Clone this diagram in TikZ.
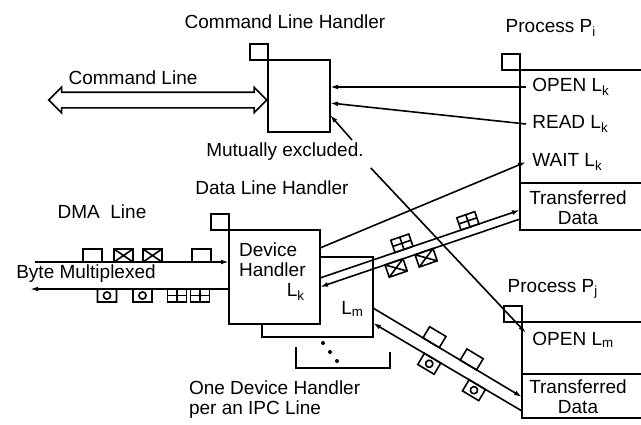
\documentclass[tikz,border=0pt]{standalone}
\usepackage{fontspec}
\setsansfont{Liberation Sans}
\usetikzlibrary{arrows.meta,shapes.arrows,calc}

\begin{document}
\begin{tikzpicture}[x=0.5pt, y=-0.5pt,
	every node/.style={font=\sffamily\fontsize{9.5}{10}\selectfont},
	>={Latex[length=4pt,width=2.4pt]},
	conn/.style={line width=0.8pt},
	handler/.style={draw, line width=1pt, fill=white, inner sep=0pt, outer sep=0pt},
	port/.style={draw, line width=1pt, inner sep=0pt, outer sep=0pt, minimum width=9pt, minimum height=8pt, anchor=south east},
	proc/.style={draw, line width=1pt, inner sep=0pt, outer sep=0pt, minimum width=70pt, anchor=north west},
	cmd/.style={anchor=west, inner sep=3pt},
	pktline/.style={line width=0.8pt},
	pkt/.pic={\draw[pktline] (-9.5,0) rectangle (9.5,-13);},
	pktx/.pic={\draw[pktline] (-9.5,0) rectangle (9.5,-13) (-9.5,0) -- (9.5,-13) (-9.5,-13) -- (9.5,0);},
	pkto/.pic={\draw[pktline] (-9.5,0) rectangle (9.5,-13) (0,-6.5) circle (1.8pt);},
	pktg/.pic={\draw[pktline] (-9.5,0) rectangle (9.5,-13) (0,0) -- (0,-13) (-9.5,-6.5) -- (9.5,-6.5);}]
	\useasboundingbox (0,0) rectangle (641,424);
	\clip (0,0) rectangle (641,424);

	% command line handler
	\node[handler, minimum width=31pt, minimum height=36pt] (cmdh) at (299,96) {};
	\node[port] (cmdport) at (cmdh.north west) {};
	\node (cmdtitle) at (285,22) {Command Line Handler};
	\node[double arrow, draw, line width=0.8pt, minimum height=109pt, inner sep=3.5pt,
		double arrow head extend=2.5pt, anchor=east] (cmdline) at ([yshift=-2pt]cmdh.west) {};
	\node (cmdlabel) at (133,78) {Command Line};

	% process Pi
	\node[proc, minimum height=56.5pt] (piu) at (520,70) {};
	\node[proc, minimum height=23.5pt] (pid) at (piu.south west) {};
	\node[port] (piport) at (piu.north west) {};
	\node (pititle) at (551,28) {Process P\textsubscript{i}};
	\node[cmd] (openk) at (526,87) {OPEN L\textsubscript{k}};
	\node[cmd] (readk) at (526,124) {READ L\textsubscript{k}};
	\node[cmd] (waitk) at (526,162) {WAIT L\textsubscript{k}};
	\node[align=center] (pidtext) at (578,208) {Transferred\\Data};

	% process Pj
	\node[proc, minimum height=26pt] (pju) at (522,322) {};
	\node[proc, minimum height=22pt] (pjd) at (pju.south west) {};
	\node[port] (pjport) at (pju.north west) {};
	\node (pjtitle) at (553,289) {Process P\textsubscript{j}};
	\node[cmd] (openm) at (526,340) {OPEN L\textsubscript{m}};
	\node[align=center] (pjdtext) at (578,397) {Transferred\\Data};

	% data line handler
	\node (dlhtitle) at (272,188) {Data Line Handler};
	\node (dmatitle) at (102,212) {DMA\ \ Line};
	\draw[line width=1pt] (296,347) -- (296,368) -- (390,368) -- (390,352);
	\fill (323,343) circle (1pt) (330,352) circle (1pt) (337,361) circle (1pt);
	\node[handler, minimum width=55.5pt, minimum height=40pt] (dh2) at (317.5,297) {};
	\node[anchor=east] (lm) at (371,309) {L\textsubscript{m}};
	\node[handler, minimum width=45.5pt, minimum height=47pt] (dh) at (274.5,277) {};
	\node[port] (dhport) at (dh.north west) {};
	\node[anchor=north west, align=left] (dhtext) at (232,236) {Device\\Handler};
	\node (lk) at (296,292) {L\textsubscript{k}};
	\node[anchor=west, align=left] (onedh) at (182,400) {One Device Handler\\per an IPC Line};

	% DMA line
	\coordinate (dmain) at (35,262);
	\coordinate (dmaout) at (30,289);
	\draw[conn,->] (dmain) -- (dmain -| dh.west);
	\draw[conn,->] (dmaout -| dh.west) -- (dmaout);
	\node (bytemux) at (86,274) {Byte Multiplexed};
	\foreach \x/\p in {92.5/pkt, 123.5/pktx, 152.5/pktx, 201.5/pkt}
		\pic at (\x,262) {\p};
	\foreach \x/\p in {107/pkto, 142.5/pkto, 177/pktg, 200/pktg}
		\pic[rotate=180] at (\x,289) {\p};

	% line to Pi
	\coordinate (c1a) at ([yshift=-0.5pt]dh.east);
	\coordinate (c1b) at ([yshift=-1.75pt]pid.west);
	\coordinate (c1c) at ([yshift=-5pt]dh.east);
	\coordinate (c1d) at ([yshift=-6.25pt]pid.west);
	\draw[conn,->] (c1a) -- (c1b);
	\draw[conn,->] (c1d) -- (c1c);
	\foreach \t in {0.42,0.75}
		\pic[rotate=19] at ($(c1a)!\t!(c1b)$) {pktg};
	\foreach \t in {0.37,0.52}
		\pic[rotate=199] at ($(c1c)!\t!(c1d)$) {pktx};

	% line to Pj
	\coordinate (c2a) at ([yshift=-5.5pt]dh2.east);
	\coordinate (c2b) at ([yshift=-0.5pt]pjd.west);
	\coordinate (c2c) at ([yshift=-13pt]dh2.east);
	\coordinate (c2d) at ([yshift=-7.5pt]pjd.west);
	\draw[conn,->] (c2a) -- (c2b);
	\draw[conn,->] (c2d) -- (c2c);
	\foreach \t in {0.39,0.64}
		\pic[rotate=-31] at ($(c2a)!\t!(c2b)$) {pkt};
	\foreach \t in {0.40,0.70}
		\pic[rotate=149] at ($(c2c)!\t!(c2d)$) {pkto};

	% commands
	\draw[conn,->] (openk.west) -- (openk.west -| cmdh.east);
	\draw[conn,->] (readk.west) -- ([yshift=-3.5pt]cmdh.east);
	\draw[conn,->] ([yshift=14.5pt]dh.east) -- (waitk.west);

	% mutual exclusion
	\node (mutex) at (285,152) {Mutually excluded.};
	\coordinate (mxa) at (352,140);
	\draw[conn,->] (mxa) -- ([yshift=-9.5pt]cmdh.east);
	\draw[conn,->] (mutex.south east) -- ([yshift=3.5pt]openm.west);
\end{tikzpicture}
\end{document}
